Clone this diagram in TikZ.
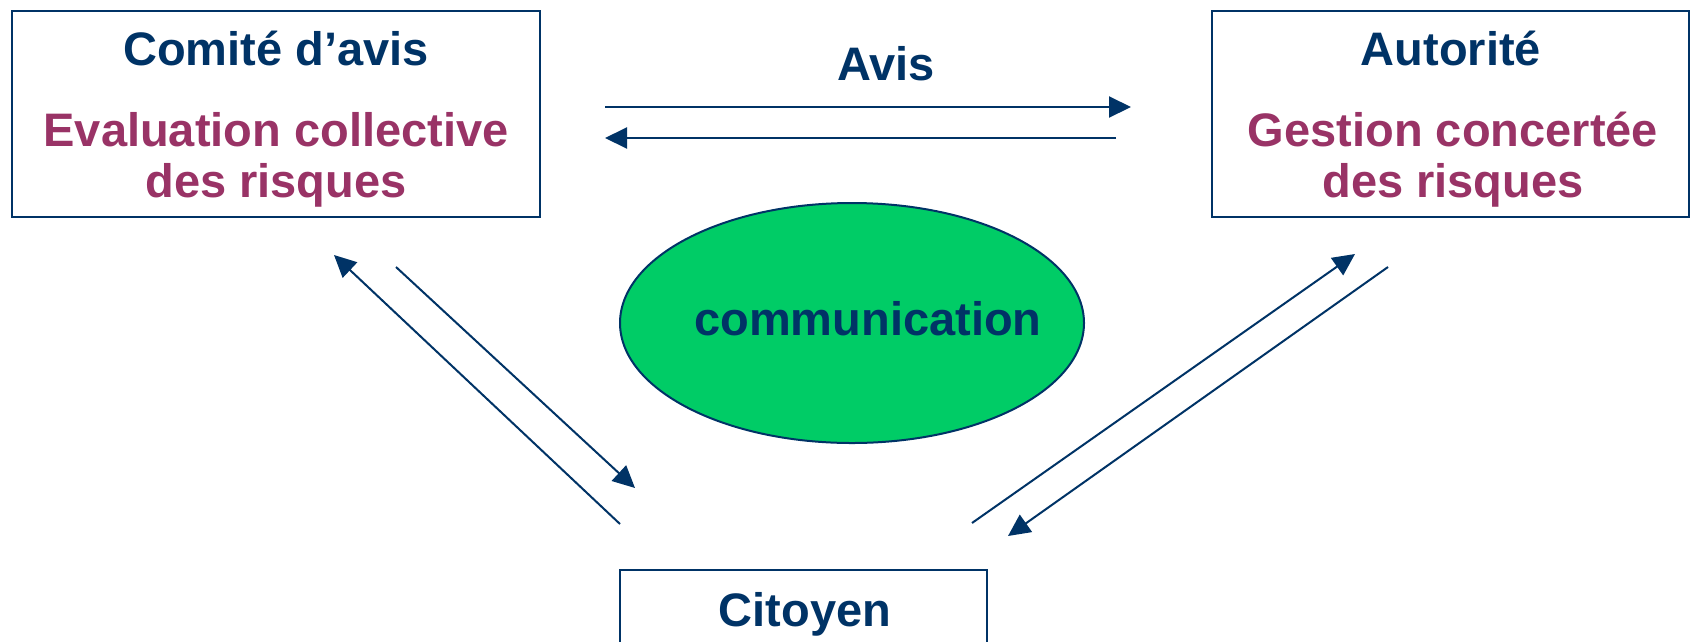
\documentclass[tikz,border=0pt]{standalone}
\usepackage{fontspec}
\setmainfont{Liberation Sans}
\usetikzlibrary{arrows.meta,shapes.geometric}
\definecolor{navy}{RGB}{0,51,102}
\definecolor{plum}{RGB}{153,51,102}
\definecolor{vert}{RGB}{0,204,102}

\begin{document}
\begin{tikzpicture}[x=1pt, y=-1pt, line width=2pt, >={Triangle[length=22pt,width=21pt]},
  box node/.style={draw=navy, rectangle, inner sep=0pt},
  title/.style={font=\fontsize{47}{53}\selectfont\bfseries, text=navy, anchor=base, inner sep=0pt},
  sub/.style={title, text=plum}]
\useasboundingbox (0,0) rectangle (1694,641);
\clip (0,0) rectangle (1694,641);
\fill[white] (0,0) rectangle (1694,641);
\begin{scope}
\node[box node, minimum width=528pt, minimum height=206pt] (comite) at (276,114) {};
\node[box node, minimum width=477pt, minimum height=206pt] (autorite) at (1450.5,114) {};
\node[box node, minimum width=367pt, minimum height=100pt] (citoyen) at (803.5,620) {};
\node[draw=navy, fill=vert, ellipse, minimum width=464pt, minimum height=240pt] (comm) at (852,323) {};
\end{scope}
\begin{scope}
\node[title] (comiteT) at (276,65) {Comité d’avis};
\node[sub] (evalT) at (276,146) {Evaluation collective};
\node[sub] (risqG) at (276,197) {des risques};
\node[title] (autoT) at (1451,65) {Autorité};
\node[sub] (gestT) at (1453,146) {Gestion concertée};
\node[sub] (risqD) at (1453,197) {des risques};
\node[title] (avisT) at (886,80) {Avis};
\node[title] (commT) at (868,335) {communication};
\node[title] (citT) at (805,626) {Citoyen};
\end{scope}
% extremites des fleches
\coordinate (a1) at (605,107);
\coordinate (a2) at (1131,107);
\coordinate (a3) at (1116,138);
\coordinate (a4) at (605,138);
\coordinate (l1) at (620,524);
\coordinate (l2) at (334,255);
\coordinate (l3) at (396,267);
\coordinate (l4) at (635,488);
\coordinate (r1) at (972,523);
\coordinate (r2) at (1355,254);
\coordinate (r3) at (1388,267);
\coordinate (r4) at (1008,536);
\begin{scope}[draw=navy]
\draw[->] (a1) -- (a2);
\draw[->] (a3) -- (a4);
\draw[->] (l1) -- (l2);
\draw[->] (l3) -- (l4);
\draw[->] (r1) -- (r2);
\draw[->] (r3) -- (r4);
\end{scope}
\end{tikzpicture}
\end{document}
